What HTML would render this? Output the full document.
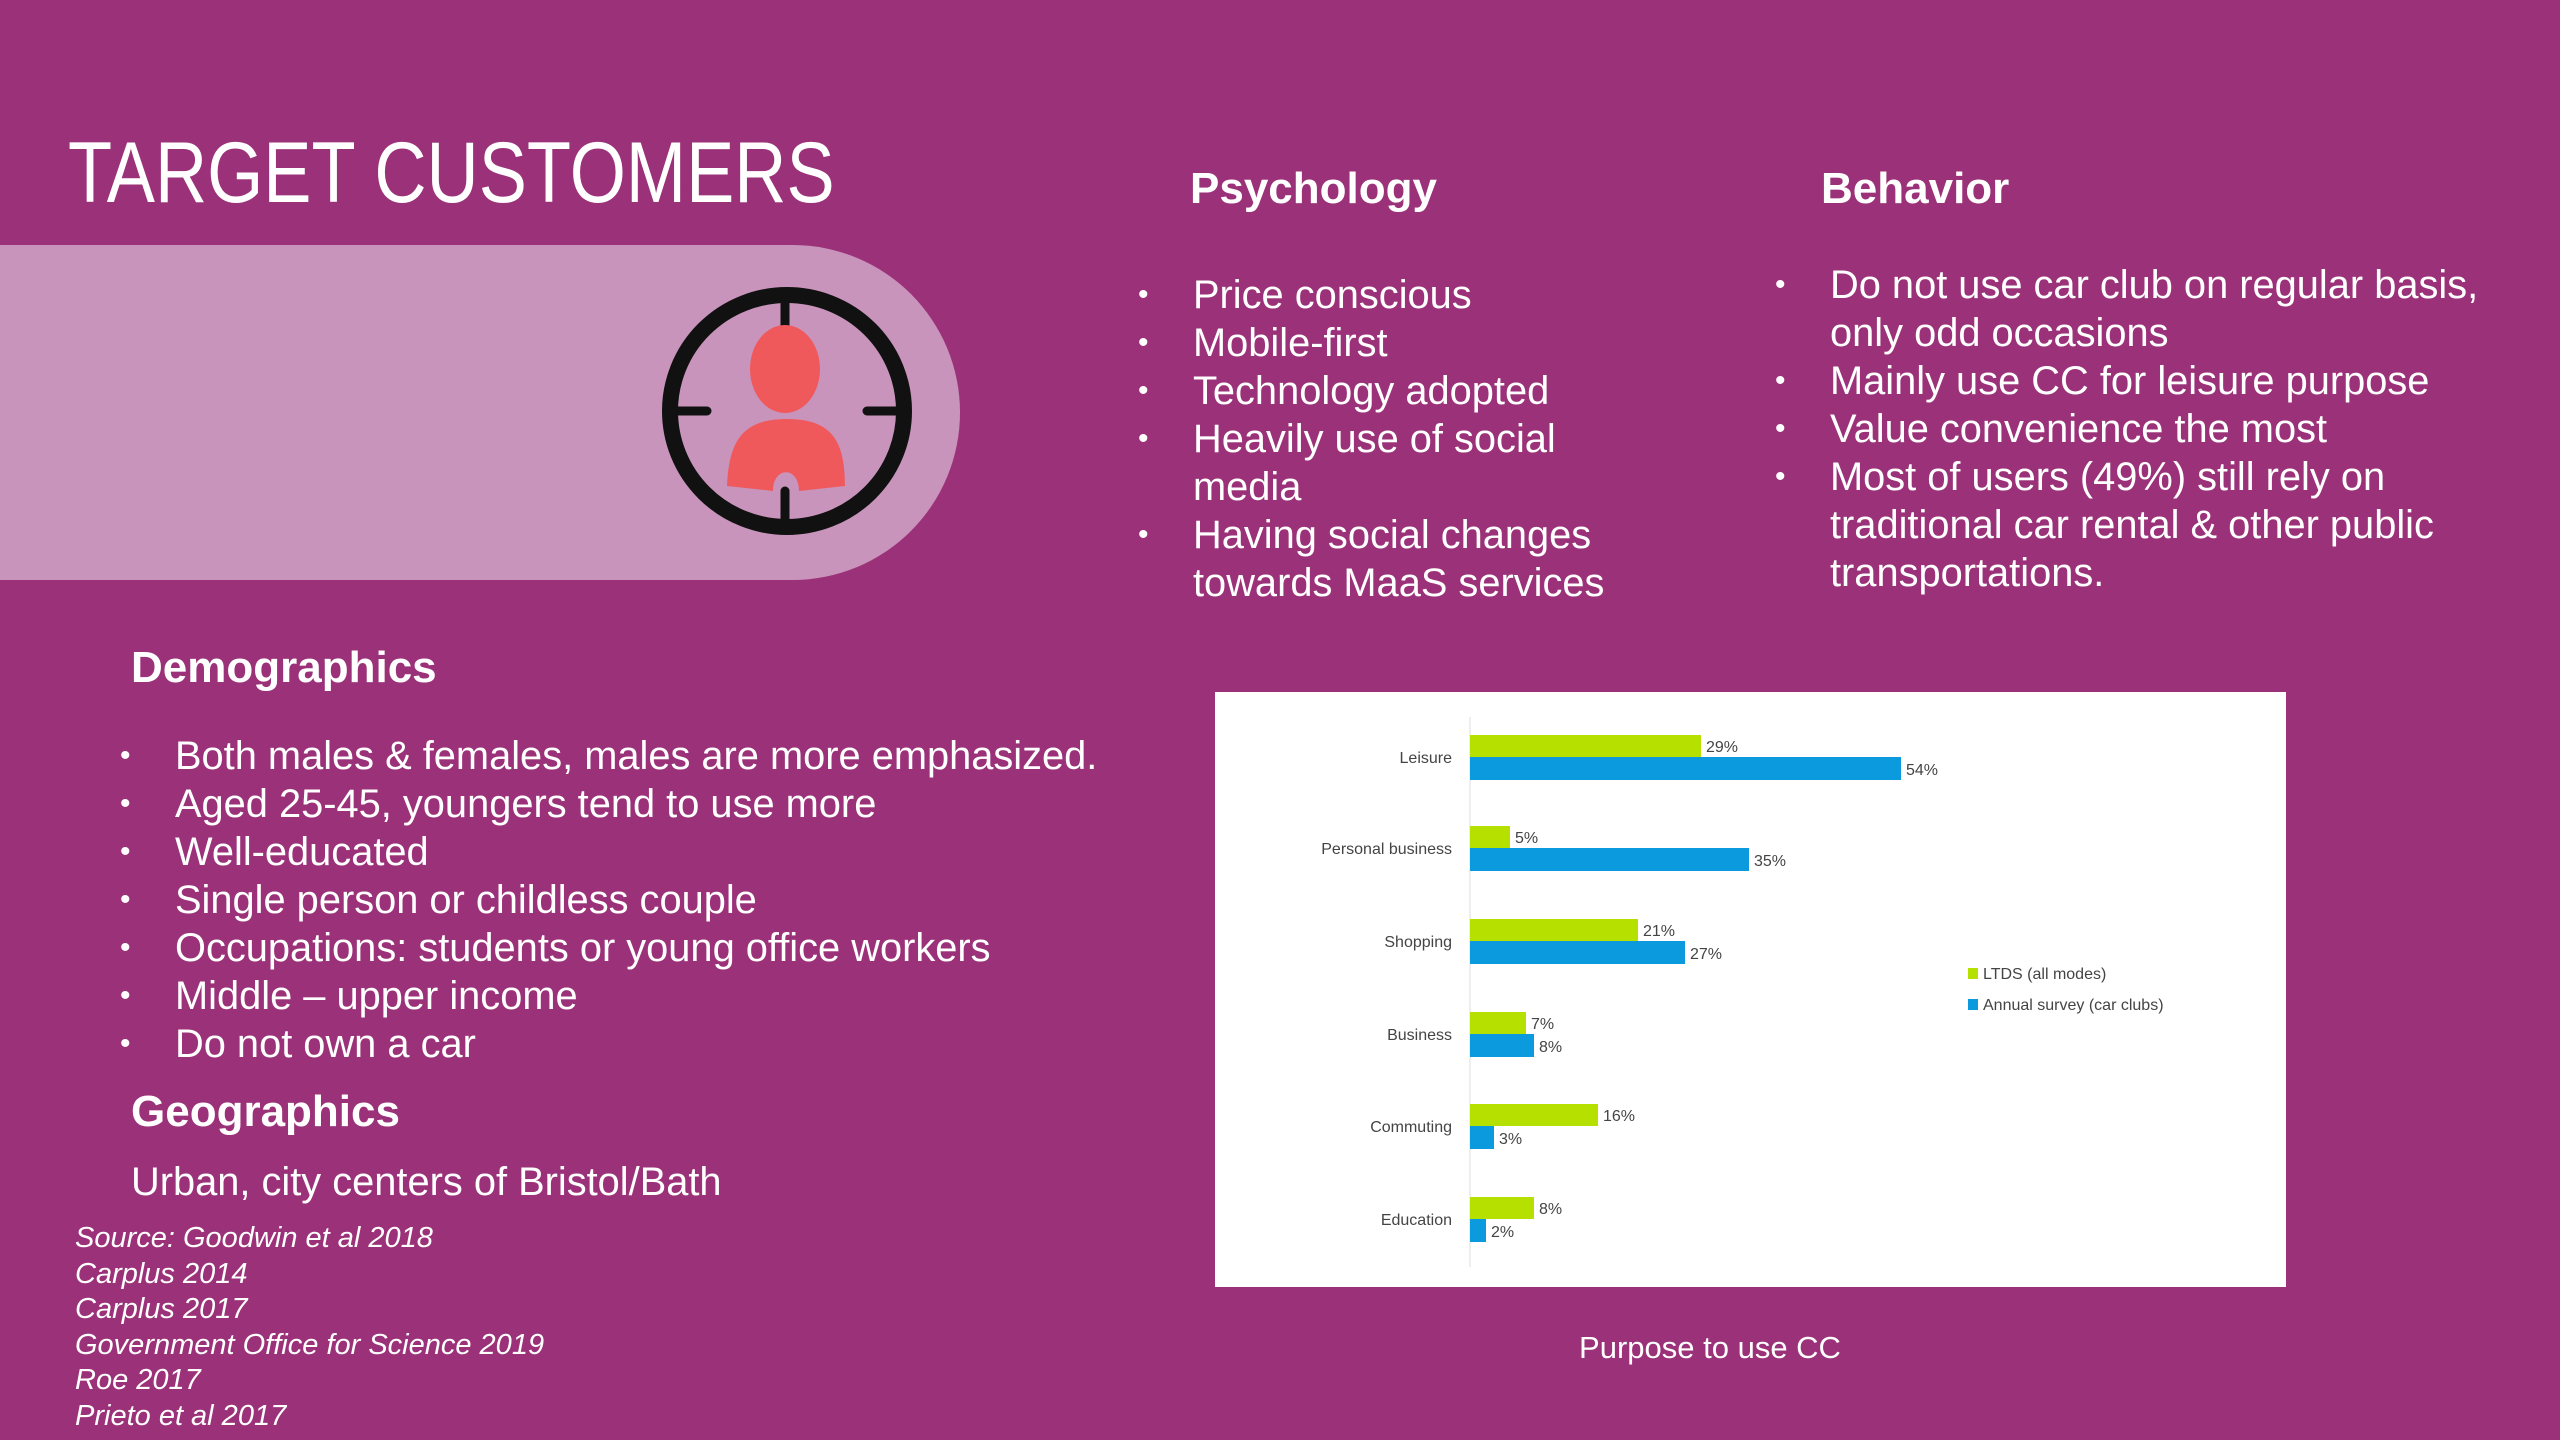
<!DOCTYPE html>
<html><head><meta charset="utf-8"><style>
html,body{margin:0;padding:0}
body{width:2560px;height:1440px;background:#9b3279;position:relative;overflow:hidden;font-family:"Liberation Sans",sans-serif;color:#fff}
.a{position:absolute;white-space:nowrap}
.h{font-weight:bold;font-size:44px}
.b{font-size:39.8px;line-height:48px}
.b div{position:relative;padding-left:55px}
.b div.d::before{content:"•";position:absolute;left:0;font-size:30px}
.src{font-style:italic;font-size:29px;line-height:35.5px}
</style></head><body>
<div class="a" style="left:68px;top:128px;font-size:86px;line-height:90px;transform:scaleX(0.84);transform-origin:left top">TARGET CUSTOMERS</div>
<div class="a" style="left:-200px;top:245px;width:1160px;height:335px;border-radius:0 168px 168px 0;background:#c994bb"></div>
<svg class="a" style="left:650px;top:275px" width="280" height="280" viewBox="0 0 280 280">
<g transform="translate(137,136)">
<ellipse cx="0" cy="0" rx="117" ry="116" fill="none" stroke="#111" stroke-width="16"/>
<path d="M-2,-112 V-78 M-112,0 H-80 M80,0 H112 M-2,80 V112" stroke="#111" stroke-width="9" stroke-linecap="round"/>
<ellipse cx="-2" cy="-42" rx="35" ry="44" fill="#f0595c"/>
<path d="M-60,75 C-58,30 -45,8 0,8 C45,8 58,30 58,75 L12,80 C12,55 -14,55 -14,80 Z" fill="#f0595c"/>
</g></svg>
<div class="a h" style="left:1190px;top:164px">Psychology</div>
<div class="a h" style="left:1821px;top:164px">Behavior</div>
<div class="a b" style="left:1138px;top:271px">
<div class="d">Price conscious</div><div class="d">Mobile-first</div><div class="d">Technology adopted</div><div class="d">Heavily use of social</div><div>media</div><div class="d">Having social changes</div><div>towards MaaS services</div></div>
<div class="a b" style="left:1775px;top:261px">
<div class="d">Do not use car club on regular basis,</div><div>only odd occasions</div><div class="d">Mainly use CC for leisure purpose</div><div class="d">Value convenience the most</div><div class="d">Most of users (49%) still rely on</div><div>traditional car rental &amp; other public</div><div>transportations.</div></div>
<div class="a h" style="left:131px;top:643px">Demographics</div>
<div class="a b" style="left:120px;top:732px">
<div class="d">Both males &amp; females, males are more emphasized.</div><div class="d">Aged 25-45, youngers tend to use more</div><div class="d">Well-educated</div><div class="d">Single person or childless couple</div><div class="d">Occupations: students or young office workers</div><div class="d">Middle – upper income</div><div class="d">Do not own a car</div></div>
<div class="a h" style="left:131px;top:1087px">Geographics</div>
<div class="a b" style="left:131px;top:1158px">Urban, city centers of Bristol/Bath</div>
<div class="a src" style="left:75px;top:1221px">Source: Goodwin et al 2018<br>Carplus 2014<br>Carplus 2017<br>Government Office for Science 2019<br>Roe 2017<br>Prieto et al 2017</div>
<svg class="a" style="left:1215px;top:692px" width="1071" height="595" font-family="Liberation Sans, sans-serif" font-size="16" fill="#444">
<rect width="1071" height="595" fill="#fff"/>
<line x1="255" y1="25" x2="255" y2="575" stroke="#ddd" stroke-width="1"/>
<rect x="255" y="43" width="231" height="22" fill="#b5e000"/><rect x="255" y="65" width="431" height="23" fill="#0b9ade"/>
<text x="491" y="60">29%</text><text x="691" y="83">54%</text><text x="237" y="71" text-anchor="end">Leisure</text>
<rect x="255" y="134" width="40" height="22" fill="#b5e000"/><rect x="255" y="156" width="279" height="23" fill="#0b9ade"/>
<text x="300" y="151">5%</text><text x="539" y="174">35%</text><text x="237" y="162" text-anchor="end">Personal business</text>
<rect x="255" y="227" width="168" height="22" fill="#b5e000"/><rect x="255" y="249" width="215" height="23" fill="#0b9ade"/>
<text x="428" y="244">21%</text><text x="475" y="267">27%</text><text x="237" y="255" text-anchor="end">Shopping</text>
<rect x="255" y="320" width="56" height="22" fill="#b5e000"/><rect x="255" y="342" width="64" height="23" fill="#0b9ade"/>
<text x="316" y="337">7%</text><text x="324" y="360">8%</text><text x="237" y="348" text-anchor="end">Business</text>
<rect x="255" y="412" width="128" height="22" fill="#b5e000"/><rect x="255" y="434" width="24" height="23" fill="#0b9ade"/>
<text x="388" y="429">16%</text><text x="284" y="452">3%</text><text x="237" y="440" text-anchor="end">Commuting</text>
<rect x="255" y="505" width="64" height="22" fill="#b5e000"/><rect x="255" y="527" width="16" height="23" fill="#0b9ade"/>
<text x="324" y="522">8%</text><text x="276" y="545">2%</text><text x="237" y="533" text-anchor="end">Education</text>
<rect x="753" y="276" width="10" height="11" fill="#b5e000"/><text x="768" y="287">LTDS (all modes)</text>
<rect x="753" y="307" width="10" height="11" fill="#0b9ade"/><text x="768" y="318">Annual survey (car clubs)</text>
</svg>
<div class="a" style="left:1510px;top:1330px;width:400px;text-align:center;font-size:31px">Purpose to use CC</div>
</body></html>
